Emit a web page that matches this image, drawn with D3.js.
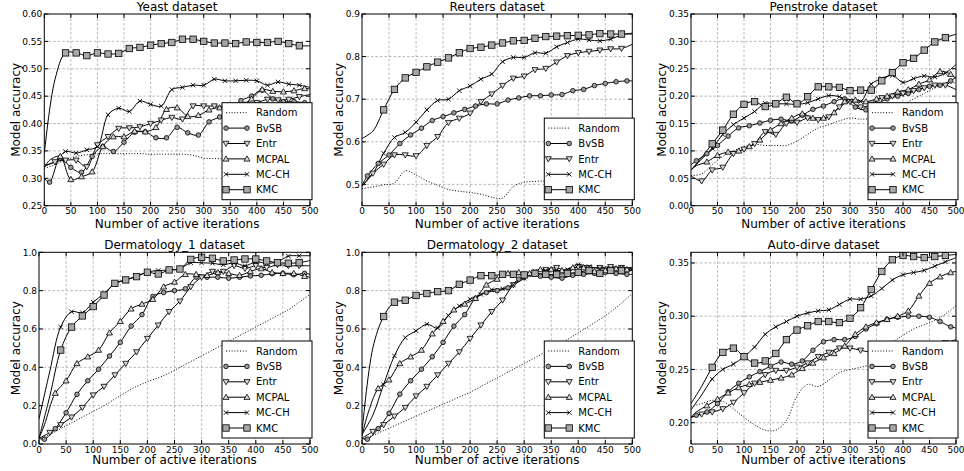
<!DOCTYPE html>
<html>
<head>
<meta charset="utf-8">
<script src="https://cdn.jsdelivr.net/npm/d3@7"></script>
<style>
  body { margin: 0; background: #fff; }
  text { font-family: "DejaVu Sans", sans-serif; fill: #000; }
</style>
</head>
<body>
<svg id="fig" width="964" height="471"></svg>
<script>
// iteration grids (markers of BvSB / MCPAL sit on the odd tens)
const xEven = [0,20,40,60,80,100,120,140,160,180,200,220,240,260,280,300,320,340,360,380,400,420,440,460,480,500];
const xOdd = [0,10,30,50,70,90,110,130,150,170,190,210,230,250,270,290,310,330,350,370,390,410,430,450,470,490,500];
const xTicks = [0,50,100,150,200,250,300,350,400,450,500];

// Yeast
const yeastTicks = [0.25,0.30,0.35,0.40,0.45,0.50,0.55,0.60];
const yeastRandom = [.318,.325,.334,.340,.343,.345,.345,.345,.345,.345,.344,.344,.344,.344,.342,.337,.336,.336,.336,.336,.336,.336,.336,.336,.336,.336];
const yeastBvSB = [.300,.293,.337,.320,.311,.340,.358,.349,.366,.384,.385,.374,.374,.393,.383,.379,.403,.412,.425,.442,.450,.461,.445,.440,.440,.438,.437];
const yeastEntr = [.321,.330,.333,.333,.321,.361,.376,.391,.392,.394,.400,.406,.411,.408,.432,.432,.432,.431,.431,.435,.438,.444,.443,.444,.449,.453];
const yeastMCPAL = [.320,.333,.340,.298,.303,.312,.358,.376,.376,.386,.385,.393,.426,.429,.413,.415,.425,.429,.426,.432,.445,.462,.459,.458,.460,.464,.463];
const yeastMCCH = [.324,.330,.349,.346,.352,.358,.416,.428,.422,.441,.435,.432,.462,.466,.470,.470,.481,.478,.478,.479,.478,.470,.476,.472,.470,.466];
const yeastKMC = [.345,.480,.529,.529,.524,.529,.527,.528,.537,.539,.543,.546,.548,.554,.554,.550,.547,.547,.546,.549,.548,.548,.550,.546,.542,.542];

// Reuters
const reutersTicks = [0.5,0.6,0.7,0.8,0.9];
const reutersRandom = [.490,.494,.499,.503,.532,.522,.508,.498,.488,.484,.481,.477,.470,.468,.495,.505,.507,.508,.509,.510,.511,.512,.513,.514,.515,.516];
const reutersBvSB = [.497,.520,.549,.569,.596,.616,.632,.650,.659,.668,.676,.684,.689,.689,.698,.703,.708,.708,.710,.711,.720,.723,.732,.737,.741,.743,.743];
const reutersEntr = [.495,.526,.547,.569,.569,.567,.591,.612,.645,.655,.667,.694,.712,.732,.749,.754,.769,.772,.787,.802,.809,.812,.815,.818,.819,.829];
const reutersMCCH = [.497,.525,.573,.610,.622,.646,.675,.697,.700,.720,.731,.747,.759,.788,.798,.798,.809,.808,.823,.833,.841,.839,.837,.841,.851,.855];
const reutersKMC = [.608,.625,.675,.723,.750,.763,.776,.787,.797,.809,.819,.822,.827,.832,.837,.838,.843,.847,.848,.849,.850,.851,.854,.853,.853,.853];

// Penstroke
const penTicks = [0.00,0.05,0.10,0.15,0.20,0.25,0.30,0.35];
const penRandom = [.055,.058,.075,.090,.100,.108,.112,.110,.110,.110,.118,.130,.142,.148,.155,.160,.158,.160,.170,.180,.185,.195,.205,.215,.222,.225];
const penBvSB = [.075,.082,.095,.110,.127,.142,.146,.151,.156,.158,.155,.165,.176,.182,.190,.195,.180,.175,.185,.195,.200,.205,.212,.218,.220,.228,.235];
const penEntr = [.055,.045,.065,.070,.095,.103,.113,.135,.130,.150,.152,.160,.157,.162,.180,.190,.180,.185,.197,.200,.205,.210,.215,.220,.220,.212];
const penMCPAL = [.065,.073,.080,.092,.098,.100,.108,.120,.138,.150,.160,.168,.160,.160,.170,.190,.193,.190,.195,.200,.208,.212,.222,.230,.245,.240,.232];
const penMCCH = [.065,.085,.105,.130,.148,.160,.172,.187,.186,.186,.185,.188,.195,.201,.199,.192,.190,.222,.232,.238,.225,.232,.237,.235,.242,.258];
const penKMC = [.065,.088,.113,.138,.167,.185,.190,.181,.186,.198,.186,.199,.217,.217,.216,.210,.211,.211,.228,.243,.261,.269,.284,.299,.307,.313];

// Dermatology_1
const dermTicks = [0.0,0.2,0.4,0.6,0.8,1.0];
const d1Random = [.025,.050,.080,.110,.140,.170,.200,.235,.270,.300,.325,.345,.370,.400,.430,.460,.490,.520,.550,.580,.610,.640,.670,.700,.740,.780];
const d1BvSB = [.030,.025,.080,.163,.259,.330,.390,.459,.530,.615,.675,.770,.790,.800,.810,.870,.870,.870,.865,.870,.877,.880,.888,.890,.883,.890,.885];
const d1Entr = [.030,.060,.100,.140,.190,.255,.300,.360,.420,.480,.550,.620,.690,.745,.820,.870,.900,.900,.930,.915,.930,.920,.935,.930,.930,.930];
const d1MCPAL = [.030,.100,.265,.330,.420,.455,.490,.580,.640,.705,.730,.755,.820,.845,.885,.885,.880,.895,.890,.880,.900,.915,.895,.890,.890,.875,.870];
const d1MCCH = [.130,.380,.610,.690,.685,.740,.785,.835,.856,.875,.897,.905,.907,.915,.945,.945,.943,.935,.945,.930,.950,.943,.950,.980,.982,.982];
const d1KMC = [.030,.250,.490,.610,.668,.717,.777,.838,.856,.873,.896,.887,.908,.913,.963,.974,.969,.955,.960,.965,.965,.955,.946,.943,.946,.957];

// Dermatology_2
const d2Random = [.025,.045,.070,.095,.120,.145,.170,.195,.220,.245,.270,.300,.330,.360,.390,.420,.450,.480,.510,.545,.580,.615,.650,.690,.735,.785];
const d2BvSB = [.030,.025,.080,.160,.260,.330,.390,.455,.530,.615,.675,.760,.790,.800,.815,.860,.885,.875,.870,.865,.880,.885,.890,.895,.890,.885,.885];
const d2Entr = [.030,.065,.100,.145,.190,.250,.300,.360,.420,.480,.550,.620,.690,.750,.830,.870,.895,.910,.920,.900,.925,.920,.920,.925,.920,.915];
const d2MCPAL = [.040,.150,.290,.335,.420,.455,.490,.575,.640,.700,.730,.760,.830,.860,.890,.895,.890,.910,.910,.905,.920,.920,.900,.905,.915,.910,.910];
const d2MCCH = [.050,.150,.310,.460,.555,.590,.625,.605,.670,.720,.755,.780,.805,.810,.830,.865,.900,.905,.905,.910,.935,.925,.915,.915,.920,.920];
const d2KMC = [.060,.500,.665,.740,.750,.775,.785,.795,.800,.833,.855,.878,.878,.885,.885,.882,.890,.885,.885,.890,.895,.905,.890,.905,.905,.905];

// Auto-dirve
const autoTicks = [0.20,0.25,0.30,0.35];
const autoRandom = [.215,.218,.221,.220,.213,.205,.198,.193,.193,.202,.225,.236,.234,.240,.247,.250,.252,.255,.262,.275,.282,.288,.292,.296,.302,.310];
const autoBvSB = [.205,.207,.210,.218,.229,.237,.243,.248,.253,.257,.255,.258,.268,.276,.278,.278,.281,.288,.293,.297,.299,.300,.300,.299,.295,.290,.289];
const autoEntr = [.205,.208,.210,.213,.219,.228,.237,.245,.249,.249,.252,.256,.262,.266,.270,.270,.268,.266,.265,.266,.267,.268,.270,.272,.275,.278];
const autoMCPAL = [.205,.210,.216,.222,.228,.233,.236,.238,.240,.242,.245,.251,.256,.261,.265,.272,.283,.290,.294,.297,.300,.305,.319,.331,.337,.341,.342];
const autoMCCH = [.212,.226,.241,.250,.255,.262,.271,.283,.290,.295,.300,.303,.305,.306,.311,.316,.316,.319,.326,.334,.339,.341,.343,.347,.351,.355];
const autoKMC = [.218,.234,.252,.266,.270,.262,.256,.258,.265,.278,.287,.291,.295,.295,.294,.298,.308,.325,.342,.353,.357,.356,.355,.356,.357,.358];

const markStart = { BvSB: 10, Entr: 20, MCPAL: 30, "MC-CH": 40, KMC: 40 };

function series(name, ys) {
  const xs = (name === "BvSB" || name === "MCPAL") ? xOdd : xEven;
  return { name, pts: ys.map((v, i) => ({ x: xs[i], y: v })) };
}

const panels = [
  { title: "Yeast dataset", left: 44.3, top: 14, right: 310, bottom: 205.7,
    yDomain: [0.25, 0.60], yTicks: yeastTicks, fmt: ".2f", ylabX: 20, xlabY: 227.5,
    series: [series("Random", yeastRandom), series("BvSB", yeastBvSB), series("Entr", yeastEntr),
             series("MCPAL", yeastMCPAL), series("MC-CH", yeastMCCH), series("KMC", yeastKMC)] },
  { title: "Reuters dataset", left: 362, top: 14, right: 632.3, bottom: 205.7,
    yDomain: [0.45, 0.90], yTicks: reutersTicks, fmt: ".1f", ylabX: 343, xlabY: 227.5,
    series: [series("Random", reutersRandom), series("BvSB", reutersBvSB), series("Entr", reutersEntr),
             series("MC-CH", reutersMCCH), series("KMC", reutersKMC)] },
  { title: "Penstroke dataset", left: 691, top: 14, right: 956, bottom: 205.7,
    yDomain: [0, 0.35], yTicks: penTicks, fmt: ".2f", ylabX: 666, xlabY: 227.5,
    series: [series("Random", penRandom), series("BvSB", penBvSB), series("Entr", penEntr),
             series("MCPAL", penMCPAL), series("MC-CH", penMCCH), series("KMC", penKMC)] },
  { title: "Dermatology_1 dataset", left: 39, top: 252.3, right: 310, bottom: 444,
    yDomain: [0, 1], yTicks: dermTicks, fmt: ".1f", ylabX: 20, xlabY: 464,
    series: [series("Random", d1Random), series("BvSB", d1BvSB), series("Entr", d1Entr),
             series("MCPAL", d1MCPAL), series("MC-CH", d1MCCH), series("KMC", d1KMC)] },
  { title: "Dermatology_2 dataset", left: 362, top: 252.3, right: 632.3, bottom: 444,
    yDomain: [0, 1], yTicks: dermTicks, fmt: ".1f", ylabX: 343, xlabY: 464,
    series: [series("Random", d2Random), series("BvSB", d2BvSB), series("Entr", d2Entr),
             series("MCPAL", d2MCPAL), series("MC-CH", d2MCCH), series("KMC", d2KMC)] },
  { title: "Auto-dirve dataset", left: 691, top: 252.3, right: 956, bottom: 444,
    yDomain: [0.18, 0.36], yTicks: autoTicks, fmt: ".2f", ylabX: 666, xlabY: 464,
    series: [series("Random", autoRandom), series("BvSB", autoBvSB), series("Entr", autoEntr),
             series("MCPAL", autoMCPAL), series("MC-CH", autoMCCH), series("KMC", autoKMC)] }
];

const svg = d3.select("#fig");
svg.append("rect").attr("width", 964).attr("height", 471).attr("fill", "#fff");

function drawMarker(g, name, cx, cy) {
  if (name === "BvSB") {
    g.append("circle").attr("cx", cx).attr("cy", cy).attr("r", 2.3)
      .attr("fill", "#9a9a9a").attr("stroke", "#000").attr("stroke-width", 0.8);
  } else if (name === "Entr") {
    g.append("path").attr("d", `M${cx-3},${cy-2.2}L${cx+3},${cy-2.2}L${cx},${cy+3}Z`)
      .attr("fill", "#d8d8d8").attr("stroke", "#000").attr("stroke-width", 0.8);
  } else if (name === "MCPAL") {
    g.append("path").attr("d", `M${cx-3},${cy+2.2}L${cx+3},${cy+2.2}L${cx},${cy-3}Z`)
      .attr("fill", "#d8d8d8").attr("stroke", "#000").attr("stroke-width", 0.8);
  } else if (name === "MC-CH") {
    g.append("path").attr("d", `M${cx-2.2},${cy-2.2}L${cx+2.2},${cy+2.2}M${cx-2.2},${cy+2.2}L${cx+2.2},${cy-2.2}`)
      .attr("fill", "none").attr("stroke", "#000").attr("stroke-width", 0.9);
  } else if (name === "KMC") {
    g.append("rect").attr("x", cx - 3.2).attr("y", cy - 3.2).attr("width", 6.4).attr("height", 6.4)
      .attr("fill", "#a8a8a8").attr("stroke", "#000").attr("stroke-width", 0.8);
  }
}

panels.forEach((p, pi) => {
  const x = d3.scaleLinear().domain([0, 500]).range([p.left, p.right]);
  const y = d3.scaleLinear().domain(p.yDomain).range([p.bottom, p.top]);
  const g = svg.append("g");

  // grid
  g.append("g").selectAll("line").data(xTicks.slice(1, -1)).join("line")
    .attr("x1", d => x(d)).attr("x2", d => x(d)).attr("y1", p.top).attr("y2", p.bottom)
    .attr("stroke", "#9a9a9a").attr("stroke-width", 0.7).attr("stroke-dasharray", "2.5,2");
  g.append("g").selectAll("line").data(p.yTicks.filter(t => y(t) > p.top + 0.5 && y(t) < p.bottom - 0.5)).join("line")
    .attr("y1", d => y(d)).attr("y2", d => y(d)).attr("x1", p.left).attr("x2", p.right)
    .attr("stroke", "#9a9a9a").attr("stroke-width", 0.7).attr("stroke-dasharray", "2.5,2");

  // clip
  const clipId = "clip" + pi;
  svg.append("clipPath").attr("id", clipId).append("rect")
    .attr("x", p.left).attr("y", p.top).attr("width", p.right - p.left).attr("height", p.bottom - p.top);

  const plot = g.append("g").attr("clip-path", `url(#${clipId})`);
  const line = d3.line().x(d => x(d.x)).y(d => y(d.y)).curve(d3.curveCatmullRom.alpha(0.5));

  p.series.forEach(s => {
    plot.append("path").datum(s.pts)
      .attr("fill", "none").attr("stroke", "#000").attr("stroke-width", 1)
      .attr("stroke-dasharray", s.name === "Random" ? "1,1.8" : null)
      .attr("d", line);
  });
  p.series.forEach(s => {
    if (s.name === "Random") return;
    s.pts.filter(d => d.x >= markStart[s.name] && d.x < 500)
      .forEach(d => drawMarker(plot, s.name, x(d.x), y(d.y)));
  });

  // frame
  g.append("rect").attr("x", p.left).attr("y", p.top)
    .attr("width", p.right - p.left).attr("height", p.bottom - p.top)
    .attr("fill", "none").attr("stroke", "#000").attr("stroke-width", 1);

  // inward ticks on all sides
  xTicks.forEach(t => {
    g.append("line").attr("x1", x(t)).attr("x2", x(t)).attr("y1", p.bottom).attr("y2", p.bottom - 4).attr("stroke", "#000");
    g.append("line").attr("x1", x(t)).attr("x2", x(t)).attr("y1", p.top).attr("y2", p.top + 4).attr("stroke", "#000");
    g.append("text").attr("x", x(t)).attr("y", p.bottom + 8.5)
      .attr("text-anchor", "middle").attr("font-size", "9px").text(t);
  });
  p.yTicks.forEach(t => {
    g.append("line").attr("y1", y(t)).attr("y2", y(t)).attr("x1", p.left).attr("x2", p.left + 4).attr("stroke", "#000");
    g.append("line").attr("y1", y(t)).attr("y2", y(t)).attr("x1", p.right).attr("x2", p.right - 4).attr("stroke", "#000");
    g.append("text").attr("x", p.left - 2).attr("y", y(t) + 3.2)
      .attr("text-anchor", "end").attr("font-size", "9px").text(d3.format(p.fmt)(t));
  });

  // labels
  g.append("text").attr("x", (p.left + p.right) / 2).attr("y", p.top - 3)
    .attr("text-anchor", "middle").attr("font-size", "12px").text(p.title);
  g.append("text").attr("x", (p.left + p.right) / 2).attr("y", p.xlabY)
    .attr("text-anchor", "middle").attr("font-size", "12px").text("Number of active iterations");
  g.append("text").attr("transform", `translate(${p.ylabX},${(p.top + p.bottom) / 2}) rotate(-90)`)
    .attr("text-anchor", "middle").attr("font-size", "12px").text("Model accuracy");

  // legend
  const n = p.series.length;
  const rowH = 15.4;
  const lw = 90, lh = 20 + (n - 1) * rowH;
  const lx = p.right + 2 - lw, ly = p.bottom - 6 - lh;
  const lg = svg.append("g");
  lg.append("rect").attr("x", lx).attr("y", ly).attr("width", lw).attr("height", lh)
    .attr("fill", "#fff").attr("stroke", "#000").attr("stroke-width", 1);
  p.series.forEach((s, i) => {
    const ry = ly + 10 + i * rowH;
    lg.append("line").attr("x1", lx + 4).attr("x2", lx + 25).attr("y1", ry).attr("y2", ry)
      .attr("stroke", "#000").attr("stroke-width", 1)
      .attr("stroke-dasharray", s.name === "Random" ? "1,1.8" : null);
    if (s.name !== "Random") {
      drawMarker(lg, s.name, lx + 4, ry);
      drawMarker(lg, s.name, lx + 25, ry);
    }
    lg.append("text").attr("x", lx + 34).attr("y", ry + 3.6)
      .attr("font-size", "10px").text(s.name);
  });
});
</script>
</body>
</html>
